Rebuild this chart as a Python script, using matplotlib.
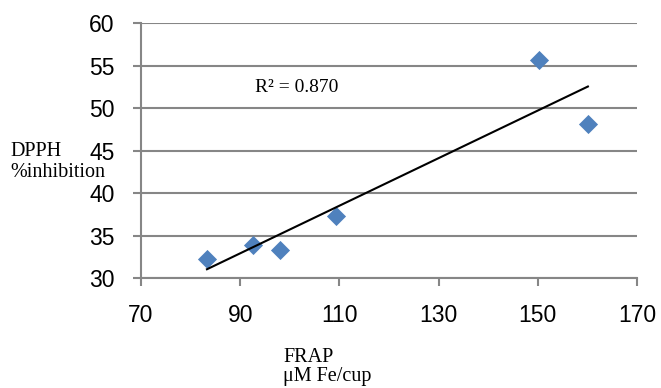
import numpy as np
import matplotlib.pyplot as plt

frap = [83.3, 92.6, 98.0, 109.3, 150.2, 160.1]
dpph = [32.2, 33.9, 33.3, 37.3, 55.6, 48.1]
xticks = [70, 90, 110, 130, 150, 170]
yticks = [30, 35, 40, 45, 50, 55, 60]

x = np.array(frap)
y = np.array(dpph)
b, a = np.polyfit(x, y, 1)
xl = np.array([x.min(), x.max()])

fig = plt.figure(figsize=(6.61, 3.88), dpi=100)
ax = fig.add_axes([0.2133, 0.2835, 0.7504, 0.6572])

grid_c = '#868686'
ax.set_xlim(70, 170)
ax.set_ylim(30, 60)
ax.set_xticks(xticks)
ax.set_yticks(yticks)
ax.yaxis.grid(True, color=grid_c, lw=1.5)
ax.set_axisbelow(True)
for s in ['top', 'right']:
    ax.spines[s].set_visible(False)
for s in ['left', 'bottom']:
    ax.spines[s].set_color(grid_c)
    ax.spines[s].set_linewidth(1.5)
ax.tick_params(axis='both', color=grid_c, width=1.5, length=6, labelsize=16.5)
ax.tick_params(axis='x', pad=13)
ax.tick_params(axis='y', pad=13)
for lab in ax.get_xticklabels() + ax.get_yticklabels():
    lab.set_fontfamily('Liberation Sans')

ax.scatter(x, y, marker='D', s=95, color='#4F81BD', zorder=3, linewidths=0)
ax.plot(xl, a + b * xl, color='black', lw=1.5, zorder=4)

ax.text(93, 52.4, 'R² = 0.870', family='Liberation Serif', fontsize=14,
        va='center', ha='left')

fig.text(10 / 661, 1 - 162 / 388, 'DPPH\n%inhibition', family='Liberation Serif',
         fontsize=14.5, va='center', ha='left', linespacing=1.1)
fig.text(283 / 661, 1 - 367 / 388, 'FRAP\nμM Fe/cup', family='Liberation Serif',
         fontsize=14.5, va='center', ha='left', linespacing=1.05)

fig.savefig('out.png', dpi=100)
plt.close(fig)
